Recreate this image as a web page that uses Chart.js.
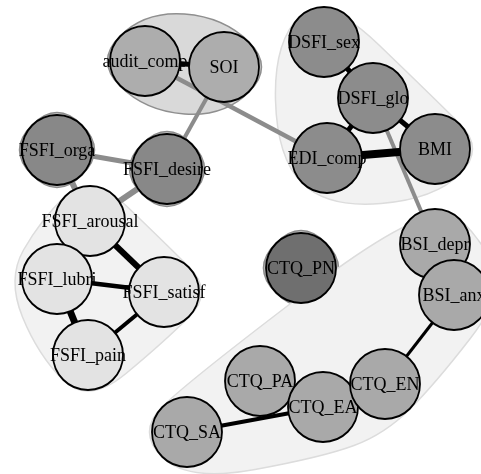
<!DOCTYPE html>
<html>
<head>
<meta charset="utf-8">
<script src="https://cdn.jsdelivr.net/npm/chart.js@4.4.0/dist/chart.umd.min.js"></script>
<style>
  html, body { margin: 0; padding: 0; background: #fff; }
  #wrap { width: 481px; height: 474px; }
</style>
</head>
<body>
<div id="wrap"><canvas id="net" width="481" height="474"></canvas></div>
<script>
// network layout, picture units (y grows downward)
const nodeNames = ['audit_comp', 'SOI', 'DSFI_sex', 'DSFI_glo', 'BMI', 'EDI_comp',
    'FSFI_orga', 'FSFI_desire', 'FSFI_arousal', 'FSFI_lubri', 'FSFI_satisf', 'FSFI_pain',
    'CTQ_PN', 'BSI_depr', 'BSI_anx', 'CTQ_PA', 'CTQ_EA', 'CTQ_EN', 'CTQ_SA'];
const nodeX = [145, 224, 324, 373, 435, 327, 57, 167, 90, 57, 164, 88, 301, 435, 454, 260, 323, 385, 187];
const nodeY = [61, 67, 42, 98, 149, 158, 150, 169, 221, 279, 292, 355, 268, 244, 295, 381, 407, 384, 432];
const nodeGroup = [1, 1, 2, 2, 2, 2, 3, 4, 5, 5, 5, 5, 6, 7, 7, 7, 7, 7, 7];

// edges: endpoints, strength, sign (1 positive / -1 negative)
const edgeFrom = ['audit_comp', 'audit_comp', 'SOI', 'FSFI_orga', 'FSFI_orga', 'FSFI_desire',
    'FSFI_arousal', 'FSFI_lubri', 'FSFI_lubri', 'FSFI_pain', 'DSFI_sex', 'DSFI_glo', 'DSFI_glo',
    'EDI_comp', 'DSFI_glo', 'BSI_anx', 'CTQ_SA'];
const edgeTo = ['SOI', 'EDI_comp', 'FSFI_desire', 'FSFI_desire', 'FSFI_arousal', 'FSFI_arousal',
    'FSFI_satisf', 'FSFI_satisf', 'FSFI_pain', 'FSFI_satisf', 'DSFI_glo', 'EDI_comp', 'BMI',
    'BMI', 'BSI_depr', 'CTQ_EN', 'CTQ_EA'];
const edgeWeight = [5, 4.5, 4, 5, 6, 6, 6, 4.5, 7, 4, 5, 5, 5, 8, 4, 3, 4];
const edgeSign = [1, -1, -1, -1, -1, -1, 1, 1, 1, 1, 1, 1, 1, 1, -1, 1, 1];

// colours per group
const groupNodeColor = {1: '#adadad', 2: '#8c8c8c', 3: '#888888', 4: '#888888', 5: '#e3e3e3', 6: '#6f6f6f', 7: '#a9a9a9'};
const groupHullFill = {1: '#d9d9d9', 2: '#f2f2f2', 3: '#cccccc', 4: '#cccccc', 5: '#f2f2f2', 6: '#cccccc', 7: '#f2f2f2'};
const groupHullBorder = {1: '#8f8f8f', 2: '#dcdcdc', 3: '#8c8c8c', 4: '#8c8c8c', 5: '#dcdcdc', 6: '#8c8c8c', 7: '#dcdcdc'};

const NODE_R = 35;
const HULL_D = 50;

function idx(name) { return nodeNames.indexOf(name); }

// convex hull (monotone chain)
function convexHull(pts) {
    pts = pts.slice().sort((a, b) => a[0] - b[0] || a[1] - b[1]);
    const cross = (o, a, b) => (a[0] - o[0]) * (b[1] - o[1]) - (a[1] - o[1]) * (b[0] - o[0]);
    const lower = [], upper = [];
    for (const p of pts) {
        while (lower.length >= 2 && cross(lower[lower.length - 2], lower[lower.length - 1], p) <= 0) lower.pop();
        lower.push(p);
    }
    for (let i = pts.length - 1; i >= 0; i--) {
        const p = pts[i];
        while (upper.length >= 2 && cross(upper[upper.length - 2], upper[upper.length - 1], p) <= 0) upper.pop();
        upper.push(p);
    }
    upper.pop(); lower.pop();
    return lower.concat(upper);
}

// group hulls drawn under everything
const hullPlugin = {
    id: 'hulls',
    beforeDatasetsDraw(chart) {
        const ctx = chart.ctx;
        const xs = chart.scales.x, ys = chart.scales.y;
        const groups = [...new Set(nodeGroup)];
        groups.forEach(g => {
            const pts = [];
            nodeGroup.forEach((ng, i) => {
                if (ng !== g) return;
                const px = xs.getPixelForValue(nodeX[i]);
                const py = ys.getPixelForValue(nodeY[i]);
                pts.push([px - HULL_D, py], [px + HULL_D, py], [px, py - HULL_D], [px, py + HULL_D]);
            });
            const h = convexHull(pts);
            const n = h.length;
            const mid = (a, b) => [(a[0] + b[0]) / 2, (a[1] + b[1]) / 2];
            ctx.save();
            ctx.beginPath();
            const m0 = mid(h[n - 1], h[0]);
            ctx.moveTo(m0[0], m0[1]);
            for (let i = 0; i < n; i++) {
                const p = h[i];
                const m = mid(p, h[(i + 1) % n]);
                ctx.quadraticCurveTo(p[0], p[1], m[0], m[1]);
            }
            ctx.closePath();
            ctx.fillStyle = groupHullFill[g];
            ctx.fill();
            ctx.lineWidth = 1.5;
            ctx.strokeStyle = groupHullBorder[g];
            ctx.stroke();
            ctx.restore();
        });
    }
};

// node labels on top
const labelPlugin = {
    id: 'labels',
    afterDraw(chart) {
        const ctx = chart.ctx;
        const xs = chart.scales.x, ys = chart.scales.y;
        ctx.save();
        ctx.font = '18px "Liberation Serif"';
        ctx.fillStyle = '#000';
        ctx.textAlign = 'center';
        ctx.textBaseline = 'middle';
        nodeNames.forEach((name, i) => {
            ctx.fillText(name, xs.getPixelForValue(nodeX[i]), ys.getPixelForValue(nodeY[i]) + 1);
        });
        ctx.restore();
    }
};

const edgeDatasets = edgeFrom.map((from, i) => {
    const a = idx(from), b = idx(edgeTo[i]);
    return {
        data: [{x: nodeX[a], y: nodeY[a]}, {x: nodeX[b], y: nodeY[b]}],
        showLine: true,
        borderColor: edgeSign[i] > 0 ? '#000000' : '#8c8c8c',
        borderWidth: edgeWeight[i],
        pointRadius: 0,
        order: 2
    };
});

const nodeDataset = {
    data: nodeNames.map((n, i) => ({x: nodeX[i], y: nodeY[i]})),
    pointRadius: NODE_R,
    pointHoverRadius: NODE_R,
    pointBackgroundColor: nodeGroup.map(g => groupNodeColor[g]),
    pointBorderColor: '#000000',
    pointBorderWidth: 1.8,
    showLine: false,
    order: 1
};

new Chart(document.getElementById('net'), {
    type: 'scatter',
    data: { datasets: [nodeDataset, ...edgeDatasets] },
    options: {
        responsive: false,
        animation: false,
        events: [],
        layout: { padding: 0, autoPadding: false },
        plugins: { legend: { display: false }, tooltip: { enabled: false } },
        scales: {
            x: { type: 'linear', min: 0, max: 481, display: false },
            y: { type: 'linear', min: 0, max: 474, reverse: true, display: false }
        }
    },
    plugins: [hullPlugin, labelPlugin]
});
</script>
</body>
</html>
